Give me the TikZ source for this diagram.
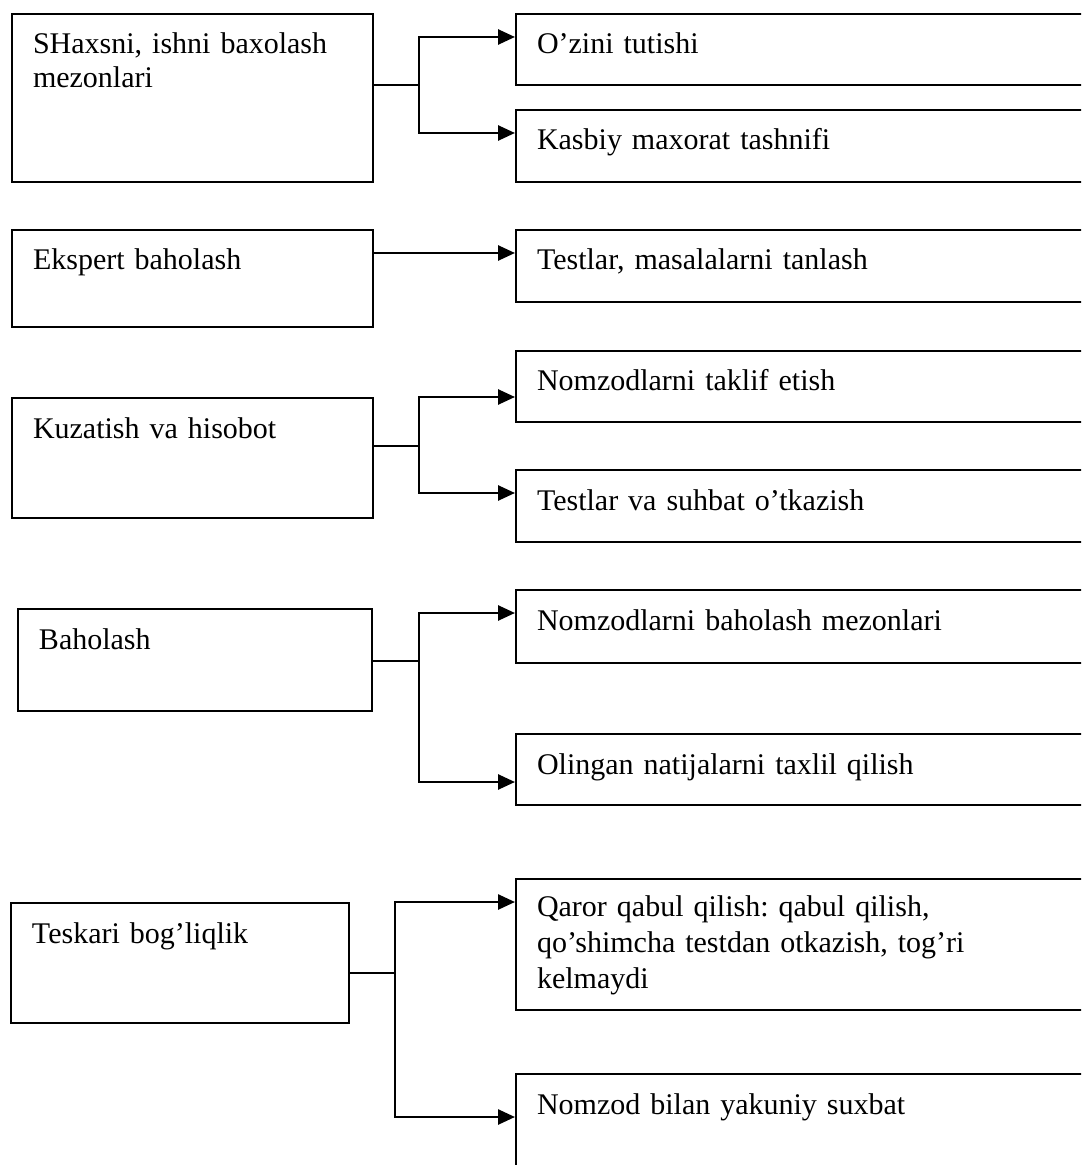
\documentclass[tikz,border=0pt]{standalone}
\usepackage{fontspec}
\setmainfont{Liberation Serif}
\usetikzlibrary{arrows.meta}
\frenchspacing

\begin{document}
\begin{tikzpicture}[x=0.5pt, y=-0.5pt, block/.style 2 args={draw, line width=1pt, anchor=north west, align=left, inner xsep=10.5pt, inner ysep=0pt, text height=20pt, text width=#1, text depth=#2, font=\fontsize{15}{17}\selectfont}, stem/.style={line width=0.9pt}, links/.style={-{Triangle[length=8.5pt, width=7.5pt]}, line width=1.3pt}]

		\clip (0,0) rectangle (1081,1165);

		\node[block={159.5pt}{64pt}] at (11,13) (crit) {SHaxsni, ishni baxolash\\mezonlari};
		\node[block={279pt}{15.5pt}] at (515,13) (conduct) {O’zini tutishi};
		\node[block={279pt}{16pt}] at (515,109) (skill) {Kasbiy maxorat tashnifi};

		\node[block={159.5pt}{28.5pt}] at (11,229) (expert) {Ekspert baholash};
		\node[block={279pt}{16pt}] at (515,229) (tests) {Testlar, masalalarni tanlash};

		\node[block={159.5pt}{40pt}] at (11,397) (observe) {Kuzatish va hisobot};
		\node[block={279pt}{15.5pt}] at (515,350) (invite) {Nomzodlarni taklif etish};
		\node[block={279pt}{16pt}] at (515,469) (interview) {Testlar va suhbat o’tkazish};

		\node[block={156pt}{31pt}] at (17,608) (evaluate) {Baholash};
		\node[block={279pt}{16.5pt}] at (515,589) (criteria) {Nomzodlarni baholash mezonlari};
		\node[block={279pt}{15.5pt}] at (515,733) (analysis) {Olingan natijalarni taxlil qilish};

		\node[block={148pt}{40pt}] at (10,902) (feedback) {Teskari bog’liqlik};
		\node[block={279pt}{47pt}, text height=18.5pt, font=\fontsize{15}{18}\selectfont] at (515,878) (decision) {Qaror qabul qilish: qabul qilish,\\qo’shimcha testdan otkazish, tog’ri\\kelmaydi};
		\node[block={279pt}{55pt}] at (515,1073) (final) {Nomzod bilan yakuniy suxbat};

		% branching points
		\coordinate (fork1) at (419,85);
		\coordinate (fork3) at (419,446);
		\coordinate (fork4) at (419,661);
		\coordinate (fork5) at (395,973);

		\draw[stem] (crit.east |- fork1) -- (fork1);
		\draw[links] (fork1) |- ([yshift=-12pt]conduct.north west);
		\draw[links] (fork1) |- ([yshift=-12pt]skill.north west);

		\draw[links] ([yshift=-12pt]expert.north east) -- ([yshift=-12pt]tests.north west);

		\draw[stem] (observe.east |- fork3) -- (fork3);
		\draw[links] (fork3) |- ([yshift=-23.5pt]invite.north west);
		\draw[links] (fork3) |- ([yshift=-12pt]interview.north west);

		\draw[stem] (evaluate.east |- fork4) -- (fork4);
		\draw[links] (fork4) |- ([yshift=-12pt]criteria.north west);
		\draw[links] (fork4) |- ([yshift=-24.5pt]analysis.north west);

		\draw[stem] (feedback.east |- fork5) -- (fork5);
		\draw[links] (fork5) |- ([yshift=-12pt]decision.north west);
		\draw[links] (fork5) |- ([yshift=-22pt]final.north west);
	\end{tikzpicture}
\end{document}
